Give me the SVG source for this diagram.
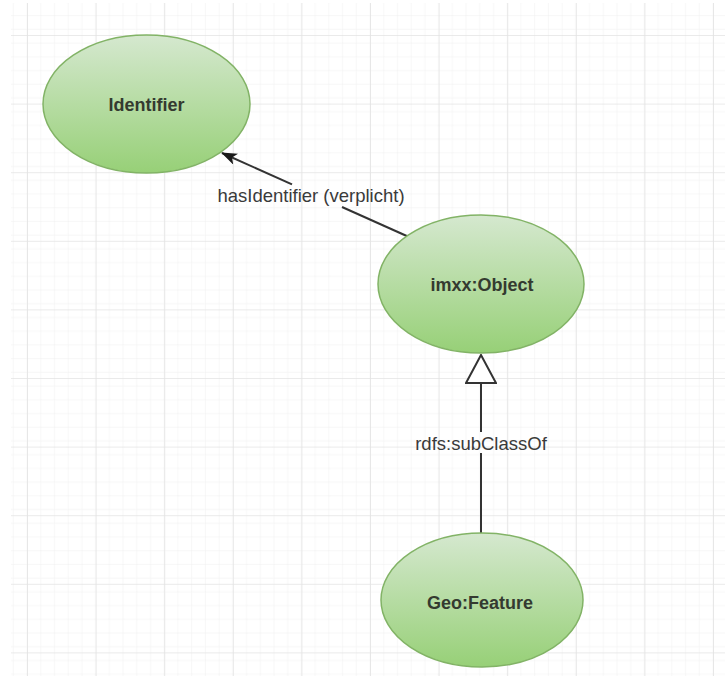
<svg xmlns="http://www.w3.org/2000/svg" width="725" height="676" viewBox="0 0 725 676">
  <defs>
    <style>
      .node-shape { stroke: #82b366; stroke-width: 1.5; fill: url(#greenFill); }
      .node-label { font-family: "Liberation Sans", Arial, sans-serif; font-size: 18px; font-weight: bold; fill: #343a30; text-anchor: middle; }
      .edge { stroke: #333333; stroke-width: 2; fill: none; }
      .edge-label { font-family: "Liberation Sans", Arial, sans-serif; font-size: 18.5px; fill: #3a3a3a; text-anchor: middle; }
    </style>
    <linearGradient id="greenFill" x1="0" y1="0" x2="0" y2="1">
      <stop offset="0" stop-color="#d5e8cf"/>
      <stop offset="1" stop-color="#97d077"/>
    </linearGradient>
    <!-- fine grid: one cell every 13.72 px -->
    <pattern id="gridMinor" patternUnits="userSpaceOnUse" x="27" y="35" width="13.72" height="13.72">
      <path d="M0,0 V13.72 M0,0 H13.72" stroke="#f0f0f0" stroke-width="1" fill="none"/>
    </pattern>
    <!-- major grid: every fifth line -->
    <pattern id="gridMajor" patternUnits="userSpaceOnUse" x="27" y="35" width="68.6" height="68.6">
      <rect width="68.6" height="68.6" fill="url(#gridMinor)"/>
      <path d="M0,0 V68.6 M0,0 H68.6" stroke="#e3e3e3" stroke-width="1.6" fill="none"/>
    </pattern>
    <marker id="classicArrow" markerUnits="userSpaceOnUse" viewBox="0 0 16 12" markerWidth="16" markerHeight="12" refX="15" refY="6" orient="auto">
      <path d="M0,0 L16,6 L0,12 L4,6 Z" fill="#1a1a1a"/>
    </marker>
    <marker id="hollowTriangle" markerUnits="userSpaceOnUse" viewBox="0 0 30 32" markerWidth="30" markerHeight="32" refX="29" refY="16" orient="auto">
      <path d="M1,1 L29,16 L1,31 Z" fill="#ffffff" stroke="#333333" stroke-width="2"/>
    </marker>
  </defs>

  <!-- canvas -->
  <rect x="0" y="0" width="725" height="676" fill="#ffffff"/>
  <rect x="11" y="3" width="714" height="673" fill="url(#gridMajor)"/>

  <!-- connectors -->
  <g id="connectors">
    <g id="edge-hasIdentifier">
      <path class="edge" d="M409,237 L342,207"/>
      <path class="edge" d="M292,184.4 L222,153" marker-end="url(#classicArrow)"/>
      <text class="edge-label" x="311" y="202">hasIdentifier (verplicht)</text>
    </g>
    <g id="edge-subClassOf">
      <path class="edge" d="M481,533 L481,453"/>
      <path class="edge" d="M481,432 L481,355" marker-end="url(#hollowTriangle)"/>
      <text class="edge-label" x="481" y="450">rdfs:subClassOf</text>
    </g>
  </g>

  <!-- nodes -->
  <g id="node-identifier">
    <ellipse class="node-shape" cx="146.5" cy="104" rx="103.5" ry="69"/>
    <text class="node-label" x="146.5" y="111">Identifier</text>
  </g>
  <g id="node-imxx-object">
    <ellipse class="node-shape" cx="481" cy="284" rx="103" ry="69"/>
    <text class="node-label" x="482" y="291">imxx:Object</text>
  </g>
  <g id="node-geo-feature">
    <ellipse class="node-shape" cx="482" cy="600" rx="101" ry="67"/>
    <text class="node-label" x="480" y="609">Geo:Feature</text>
  </g>
</svg>
